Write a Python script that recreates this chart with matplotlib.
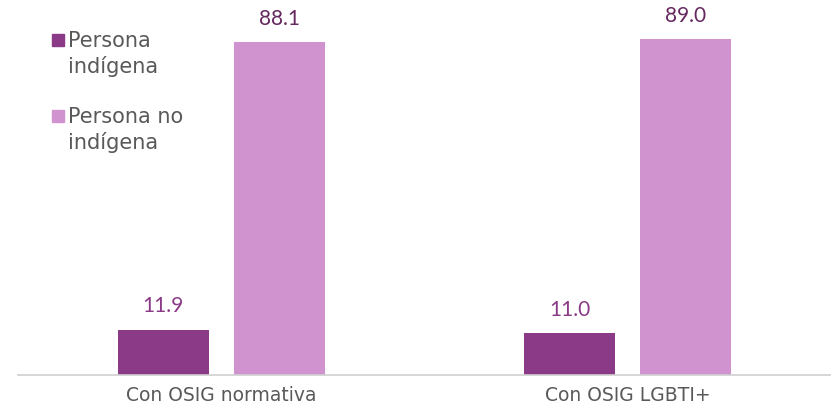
import matplotlib

matplotlib.use("Agg")
import matplotlib.pyplot as plt
from matplotlib.patches import Rectangle

CATEGORIES = ["Con OSIG normativa", "Con OSIG LGBTI+"]
SERIES_NAMES = ["Persona\nindígena", "Persona no\nindígena"]
INDIGENA = [11.9, 11.0]
NO_INDIGENA = [88.1, 89.0]

DARK = "#8A3A86"
LIGHT = "#D093CF"
DARK_LABEL = "#8A3A86"
LIGHT_LABEL = "#66285F"
TEXT_GREY = "#595959"

plt.rcParams["font.family"] = ["DejaVu Sans"]

W, H = 831, 412
fig = plt.figure(figsize=(W / 100, H / 100), dpi=100)
ax = fig.add_axes([18 / W, 37 / H, 813 / W, 359 / H])

xs = list(range(len(CATEGORIES)))
offset = 0.143
width = 0.224

bars_a = ax.bar([x - offset for x in xs], INDIGENA, width=width, color=DARK)
bars_b = ax.bar([x + offset for x in xs], NO_INDIGENA, width=width, color=LIGHT)

for bar, value in zip(bars_a, INDIGENA):
    ax.text(bar.get_x() + bar.get_width() / 2, value + 3.6, f"{value:.1f}",
            ha="center", va="bottom", fontsize=15, color=DARK_LABEL,
            family="Lato")
for bar, value in zip(bars_b, NO_INDIGENA):
    ax.text(bar.get_x() + bar.get_width() / 2, value + 3.4, f"{value:.1f}",
            ha="center", va="bottom", fontsize=15, color=LIGHT_LABEL,
            family="Lato")

ax.set_xlim(-0.5, 1.5)
ax.set_ylim(0, 95)
ax.set_yticks([])
ax.set_xticks(xs)
ax.set_xticklabels(CATEGORIES, fontsize=13.5, color=TEXT_GREY)
ax.tick_params(axis="x", length=0, pad=8)
for side in ("top", "right", "left"):
    ax.spines[side].set_visible(False)
ax.spines["bottom"].set_color("#D0D0D0")
ax.spines["bottom"].set_linewidth(1.2)

# legend drawn by hand: square + two text lines per entry
legend_tops = [34, 110]
for name, color, top in zip(SERIES_NAMES, [DARK, LIGHT], legend_tops):
    fig.add_artist(Rectangle((52 / W, 1 - (top + 12) / H), 12 / W, 12 / H,
                             transform=fig.transFigure, color=color))
    for i, line in enumerate(name.split("\n")):
        fig.text(68 / W, 1 - (top + 13 + 26 * i) / H, line, fontsize=15,
                 color=TEXT_GREY, ha="left", va="baseline")

fig.savefig("out.png", dpi=100)
